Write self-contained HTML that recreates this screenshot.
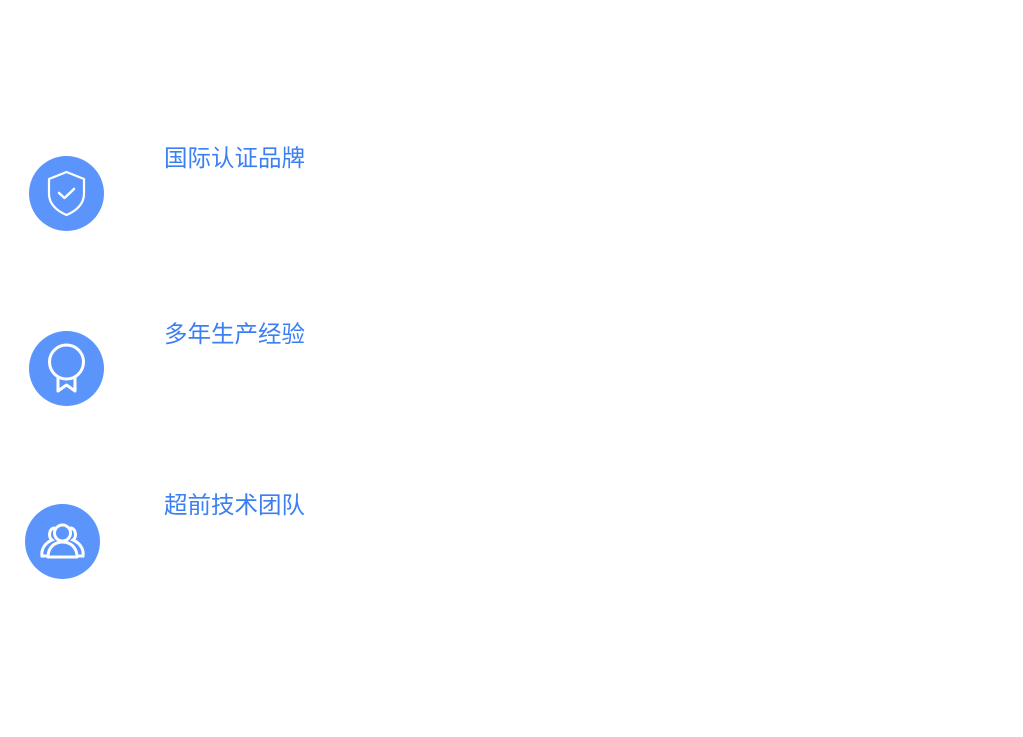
<!DOCTYPE html>
<html><head><meta charset="utf-8"><style>
body{margin:0;width:1023px;height:737px;background:#fff;position:relative;overflow:hidden}
.c{position:absolute;width:75px;height:75px;border-radius:50%;background:#5b95fc}
.c svg{position:absolute;left:0;top:0}
.t{position:absolute;left:164px;font-family:"Liberation Sans","Noto Sans CJK SC",sans-serif;font-size:23.5px;line-height:26px;color:#3b7ff3;letter-spacing:0}
</style></head><body>
<div class="c" style="left:29px;top:156px"><svg width="75" height="75" viewBox="0 0 75 75"><path d="M37.5 16 L55 23 V38 C55 48 47 55 37.5 59 C28 55 20 48 20 38 V23 Z" fill="none" stroke="#fff" stroke-width="2.2" stroke-linejoin="round"/><path d="M30 37 L35.5 42 L45 33" fill="none" stroke="#fff" stroke-width="2.5" stroke-linecap="round" stroke-linejoin="round"/></svg></div>
<div class="t" style="top:145px">国际认证品牌</div>
<div class="c" style="left:29px;top:331px"><svg width="75" height="75" viewBox="0 0 75 75"><circle cx="37.5" cy="31" r="17" fill="none" stroke="#fff" stroke-width="3"/><path d="M29 46 V60 L37.5 54 L46 60 V46" fill="none" stroke="#fff" stroke-width="3" stroke-linejoin="round"/></svg></div>
<div class="t" style="top:321px">多年生产经验</div>
<div class="c" style="left:25px;top:504px"><svg width="75" height="75" viewBox="0 0 75 75"><circle cx="37.5" cy="29" r="8" fill="none" stroke="#fff" stroke-width="3"/><path d="M23 53 C23 43 30 38 37.5 38 C45 38 52 43 52 53 Z" fill="none" stroke="#fff" stroke-width="3" stroke-linejoin="round"/><path d="M29 24 C24 25 23 33 27 36 C20 39 16 45 17 52 H21" fill="none" stroke="#fff" stroke-width="3" stroke-linecap="round"/><path d="M46 24 C51 25 52 33 48 36 C55 39 59 45 58 52 H54" fill="none" stroke="#fff" stroke-width="3" stroke-linecap="round"/></svg></div>
<div class="t" style="top:492px">超前技术团队</div>
</body></html>
